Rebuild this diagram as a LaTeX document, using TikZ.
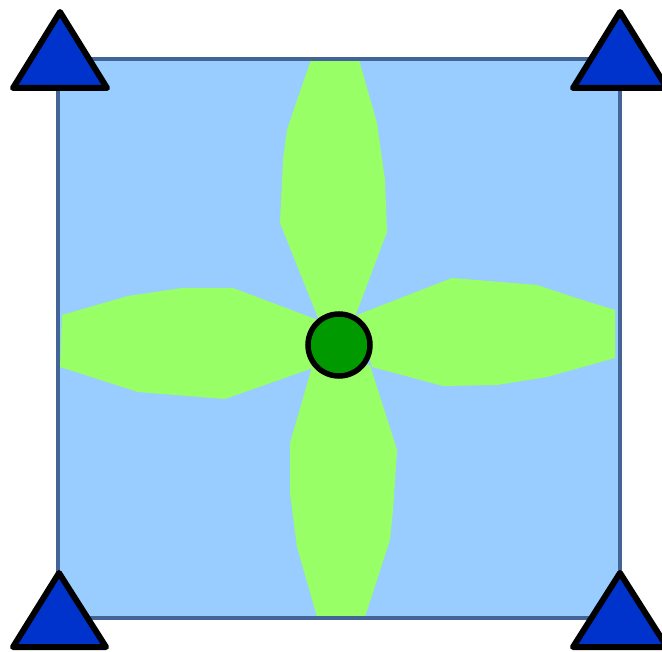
\documentclass[tikz,border=0pt]{standalone}
\definecolor{sqfill}{HTML}{99CCFF}
\definecolor{sqborder}{RGB}{66,100,150}
\definecolor{lobe}{HTML}{99FF66}
\definecolor{hub}{HTML}{009900}
\definecolor{tri}{HTML}{0033CC}
\tikzset{
  lobeshape/.style={fill=lobe, draw=none},
  trishape/.style={fill=tri, draw=black, line width=6pt, line join=round},
  hubnode/.style={circle, fill=hub, draw=black, line width=5.5pt, minimum size=62pt, inner sep=0pt},
}
\begin{document}
\begin{tikzpicture}[x=1pt,y=-1pt]
\useasboundingbox (0,0) rectangle (662,652);
% square fill
\fill[sqfill] (58,59) rectangle (620,618);
% lobes
\path[lobeshape] (311,60) -- (297,100) -- (287,130) -- (283,160) -- (280,223) -- (318,318)
  -- (355,317) -- (387,232) -- (385,180) -- (377,123) -- (359,60) -- cycle;
\path[lobeshape] (312,367) -- (290,443) -- (290,493) -- (297,547) -- (317,617)
  -- (365,617) -- (390,540) -- (393,510) -- (397,450) -- (370,365) -- cycle;
\path[lobeshape] (62,315) -- (128,296) -- (182,288) -- (233,288) -- (318,320)
  -- (313,368) -- (225,399) -- (138,392) -- (60,367) -- cycle;
\path[lobeshape] (357,315) -- (452,278) -- (537,285) -- (573,297) -- (615,310)
  -- (615,358) -- (547,377) -- (497,385) -- (443,386) -- (372,367) -- cycle;
% square border
\draw[sqborder, line width=4.5pt] (58,59) rectangle (620,618);
% hub
\node[hubnode] (hub) at (339,345) {};
% triangles
\draw[trishape] (60,12) -- (107,88) -- (13,88) -- cycle;
\draw[trishape] (620,12) -- (667,88) -- (573,88) -- cycle;
\draw[trishape] (59,573) -- (106,647) -- (13,647) -- cycle;
\draw[trishape] (620,573) -- (667,647) -- (573,647) -- cycle;
\end{tikzpicture}
\end{document}
